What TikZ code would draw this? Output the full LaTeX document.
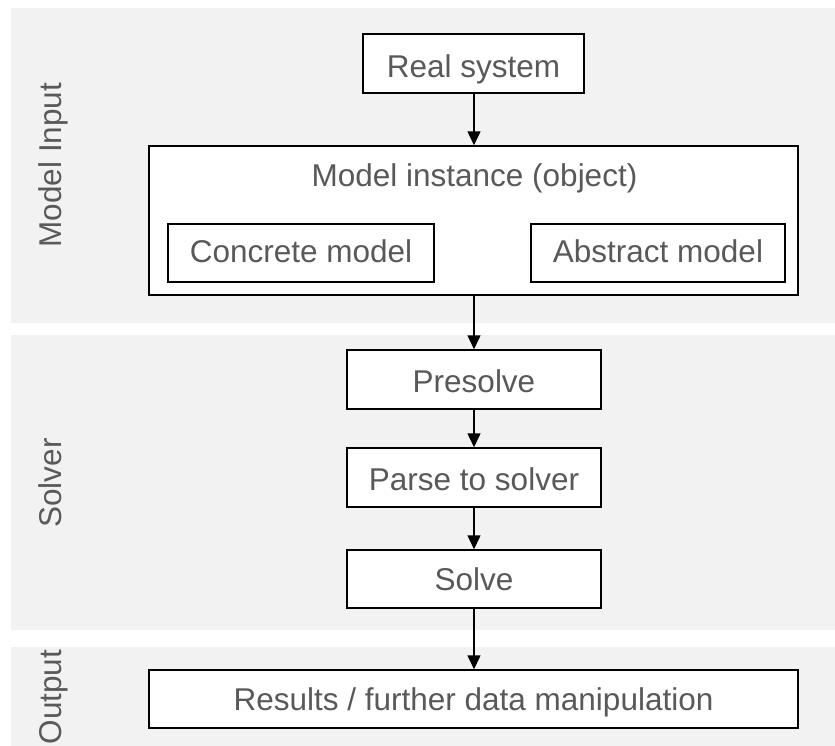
\documentclass[tikz,border=0pt]{standalone}
\usepackage{fontspec}
\setmainfont{Liberation Sans}
\usetikzlibrary{arrows.meta}
\definecolor{bandgray}{HTML}{F2F2F2}
\definecolor{txtgray}{HTML}{595959}
\tikzset{
  band/.style={fill=bandgray, draw=none},
  box/.style={draw=black, line width=1.5pt, fill=white, inner sep=0pt, align=center,
              font=\fontsize{31.5}{36}\selectfont, text=txtgray, text depth=0pt, text height=24pt},
  lbl/.style={inner sep=0pt, font=\fontsize{31.5}{36}\selectfont, text=txtgray},
  sidelbl/.style={lbl, rotate=90, anchor=base},
  flow/.style={line width=1.5pt, -{Triangle[width=13pt,length=14pt]}}
}
\begin{document}
\begin{tikzpicture}[x=1pt,y=-1pt]
\useasboundingbox (0,0) rectangle (835,745);
% bands
\fill[band] (11,8) rectangle (835,323);
\fill[band] (11,335) rectangle (835,630);
\fill[band] (11,647) rectangle (835,760);
% side labels
\node[sidelbl] (lin) at (61,165) {Model Input};
\node[sidelbl] (lsol) at (61,483) {Solver};
\node[sidelbl] (lout) at (61,697) {Output};
% boxes
\node[box, text height=27pt, minimum width=221pt, minimum height=59pt] (real) at (473.5,63.5) {Real system};
\node[box, minimum width=649pt, minimum height=149pt] (mi) at (473.5,220.5) {};
\node[lbl, anchor=base] (mititle) at (474.5,186) {Model instance (object)};
\node[box, text height=18pt, minimum width=266pt, minimum height=58pt] (conc) at (301,253) {Concrete model};
\node[box, text height=18pt, minimum width=254pt, minimum height=58pt] (abs) at (658,253) {Abstract model};
\node[box, text height=25pt, minimum width=254pt, minimum height=59pt] (pre) at (474,379.5) {Presolve};
\node[box, text height=25pt, minimum width=254pt, minimum height=59pt] (parse) at (474,477.5) {Parse to solver};
\node[box, text height=22pt, minimum width=254pt, minimum height=58pt] (solve) at (474,579) {Solve};
\node[box, text height=23pt, minimum width=649pt, minimum height=58pt] (res) at (473.5,699) {Results / further data manipulation};
% connectors
\draw[flow] (real.south -| 474,0) -- (mi.north -| 474,0);
\draw[flow] (mi.south -| 474,0) -- (pre.north -| 474,0);
\draw[flow] (pre) -- (parse);
\draw[flow] (parse) -- (solve);
\draw[flow] (solve.south -| 474,0) -- (res.north -| 474,0);
\end{tikzpicture}
\end{document}
